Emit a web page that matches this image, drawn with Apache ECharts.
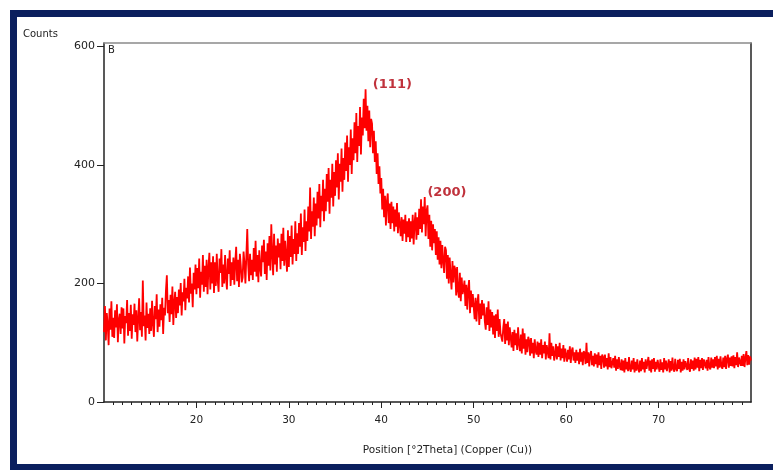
<!DOCTYPE html>
<html>
<head>
<meta charset="utf-8">
<script src="https://cdn.jsdelivr.net/npm/echarts@6/dist/echarts.min.js"></script>
<style>
  html, body { margin: 0; padding: 0; background: #fff; }
  #chart { width: 773px; height: 470px; }
</style>
</head>
<body>
<div id="chart"></div>
<script>
// scan: 2theta from 10 to 80 deg, step 0.1
var thetaStart = 10;
var thetaStep = 0.1;
// counts, one line per degree (x.0 .. x.9)
var counts = [
  118,162,104,150,131,96,158,122,170,110,
  142,108,155,126,165,101,138,149,115,160,
  124,158,99,145,133,172,112,150,120,164,
  107,148,130,166,118,155,102,140,175,121,
  152,110,205,128,146,104,168,125,149,115,
  158,120,171,133,110,162,140,182,118,156,
  127,165,138,176,115,159,146,188,214,150,
  172,135,181,148,195,130,168,186,142,177,
  150,190,163,201,146,185,170,208,155,193,
  175,212,168,227,183,200,160,218,190,232,
  182,226,192,242,176,220,198,248,186,230,
  194,240,182,226,252,190,236,200,246,184,
  236,196,250,206,186,242,218,258,194,232,
  200,248,210,190,242,216,256,196,236,206,
  244,198,236,262,204,240,194,250,230,202,
  210,254,234,200,246,292,232,204,250,214,
  240,206,260,220,272,212,248,202,256,226,
  212,264,236,274,216,254,206,268,230,280,
  222,300,250,214,284,232,264,220,276,244,
  268,224,284,238,294,230,272,246,220,290,
  228,280,245,298,232,275,250,305,238,285,
  250,302,262,318,248,295,270,325,255,305,
  272,330,288,362,275,322,296,345,280,335,
  298,355,310,368,295,348,322,375,305,360,
  322,385,338,395,318,375,345,402,330,388,
  348,408,362,420,342,402,372,428,355,412,
  375,438,390,450,372,430,400,460,385,445,
  408,472,420,488,405,466,432,498,418,480,
  450,512,462,528,458,500,440,492,430,478,
  470,420,458,405,440,385,420,368,398,352,
  378,325,360,312,348,298,338,352,302,335,
  292,338,302,330,288,325,296,336,285,320,
  318,280,312,272,308,284,316,270,305,278,
  310,270,305,276,316,266,302,320,274,312,
  282,326,292,342,286,330,300,346,280,322,
  332,275,316,262,306,256,300,268,292,248,
  288,240,278,232,272,226,265,238,218,262,
  256,208,248,200,244,214,190,238,202,230,
  224,180,228,188,176,218,170,210,182,192,
  205,162,198,156,190,206,150,188,160,182,
  180,140,176,136,168,182,130,166,140,172,
  146,166,136,122,160,130,170,120,156,126,
  152,114,146,108,148,120,156,110,140,116,
  118,102,126,140,98,132,104,136,96,126,
  124,92,118,86,122,96,116,88,126,98,
  86,114,82,124,90,116,80,106,84,110,
  104,78,108,82,100,74,106,86,80,102,
  76,100,80,106,74,96,82,102,72,96,
  96,74,116,72,100,78,94,70,80,98,
  72,94,76,100,70,90,74,96,68,90,
  90,68,88,72,94,66,86,92,70,84,
  66,88,70,84,64,90,68,84,62,86,
  82,64,100,66,84,60,80,86,62,78,
  60,82,64,80,58,84,62,78,56,80,
  76,58,80,60,74,55,82,59,76,57,
  55,74,58,78,53,72,56,76,60,54,
  72,53,70,50,74,55,68,52,76,56,
  51,70,55,74,50,68,53,72,57,50,
  70,52,74,55,68,50,72,56,53,76,
  53,70,50,72,56,74,51,68,55,71,
  68,51,72,54,67,50,74,55,70,52,
  55,72,50,69,53,75,57,51,73,56,
  52,71,56,73,50,68,53,72,55,69,
  71,54,74,57,51,72,56,70,53,75,
  55,73,58,76,52,71,57,74,54,72,
  74,57,71,53,76,59,55,75,58,72,
  57,76,60,78,55,73,58,77,61,56,
  75,59,78,56,73,80,58,75,61,77,
  60,79,57,76,62,84,59,75,77,61,
  78,61,81,59,75,86,62,79,63,77,
  70
];
var xTickValues = [20, 30, 40, 50, 60, 70];
var yTickValues = [0, 200, 400, 600];
var peakNames = ['(111)', '(200)'];
var peakCoords = [[41.2, 535], [47.1, 354]];

var points = counts.map(function (c, i) {
  return [+(thetaStart + i * thetaStep).toFixed(1), c];
});

var chart = echarts.init(document.getElementById('chart'));
var axisColor = '#222';
var textColor = '#222';
var font = 'DejaVu Sans';

chart.setOption({
  animation: false,
  backgroundColor: '#fff',
  grid: { left: 104, right: 22, top: 43, bottom: 68 },
  xAxis: [{
    type: 'value',
    min: 10,
    max: 80,
    interval: 10,
    position: 'bottom',
    axisLine: { onZero: false, lineStyle: { color: axisColor, width: 1.5 } },
    axisTick: { length: 6, customValues: xTickValues, lineStyle: { color: axisColor } },
    minorTick: { show: true, splitNumber: 10, length: 3, lineStyle: { color: axisColor } },
    axisLabel: { customValues: xTickValues, margin: 13, fontSize: 10.5, color: textColor, fontFamily: font },
    splitLine: { show: false },
    name: 'Position [°2Theta] (Copper (Cu))',
    nameLocation: 'middle',
    nameGap: 43,
    nameTextStyle: { fontSize: 10.5, color: textColor, fontFamily: font, padding: [0, 0, 0, 40] }
  }, {
    // top frame line
    type: 'value',
    min: 10,
    max: 80,
    position: 'top',
    axisLine: { show: true, onZero: false, lineStyle: { color: '#8a8a8a', width: 1.5 } },
    axisTick: { show: false },
    axisLabel: { show: false },
    splitLine: { show: false }
  }],
  yAxis: [{
    type: 'value',
    min: 0,
    max: 606,
    interval: 200,
    axisLine: { show: true, onZero: false, lineStyle: { color: axisColor, width: 1.5 } },
    axisTick: { show: true, length: 7, customValues: yTickValues, lineStyle: { color: axisColor } },
    axisLabel: { customValues: yTickValues, margin: 9, fontSize: 11, color: textColor, fontFamily: font },
    splitLine: { show: false }
  }, {
    // right frame line
    type: 'value',
    min: 0,
    max: 606,
    position: 'right',
    axisLine: { show: true, onZero: false, lineStyle: { color: axisColor, width: 1.5 } },
    axisTick: { show: false },
    axisLabel: { show: false },
    splitLine: { show: false }
  }],
  series: [{
    type: 'line',
    data: points,
    showSymbol: false,
    sampling: null,
    lineStyle: { color: '#ff0000', width: 1.8 },
    markPoint: {
      symbol: 'circle',
      symbolSize: 1,
      itemStyle: { color: 'rgba(0,0,0,0)' },
      label: {
        show: true,
        position: 'inside',
        formatter: '{b}',
        color: '#c0323c',
        fontWeight: 'bold',
        fontSize: 13,
        fontFamily: font
      },
      data: peakNames.map(function (n, i) {
        return { name: n, coord: peakCoords[i] };
      })
    }
  }],
  graphic: [
    { type: 'rect', shape: { x: 10, y: 10, width: 763, height: 7 }, style: { fill: '#0b1f5e' } },
    { type: 'rect', shape: { x: 10, y: 10, width: 7, height: 460 }, style: { fill: '#0b1f5e' } },
    { type: 'rect', shape: { x: 10, y: 464, width: 763, height: 6 }, style: { fill: '#0b1f5e' } },
    { type: 'text', left: 23, top: 29, style: { text: 'Counts', fontSize: 10, fill: textColor, fontFamily: font } },
    { type: 'text', left: 108, top: 45, style: { text: 'B', fontSize: 10, fill: textColor, fontFamily: font } }
  ]
});
</script>
</body>
</html>
